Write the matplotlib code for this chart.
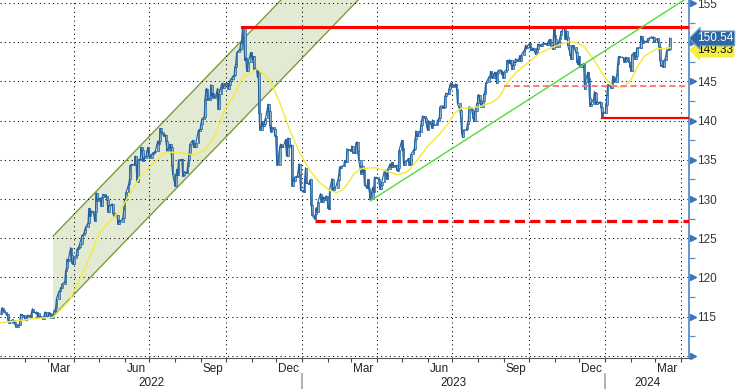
import numpy as np
import pandas as pd
import matplotlib
matplotlib.use('Agg')
import matplotlib.pyplot as plt
import matplotlib.dates as mdates
import matplotlib.transforms as mtrans

# daily closes (business days)
close_2022 = [
    115.3, 116.1, 116.1, 115.8, 115.6, 115.2, 115.3, 114.6, 114.2, 114.2, 114.6, 114.6, 114.3, 114.1, 113.7, 113.9, 113.9, 114.6, 115.3, 115.2, 115.1,
    114.7, 114.6, 114.9, 115.2, 115.0, 115.1, 115.6, 116.0, 115.6, 115.4, 115.6, 114.9, 115.4, 115.0, 115.0, 114.9, 114.7, 115.1, 115.6, 115.0,
    114.9, 115.5, 115.5, 114.8, 115.3, 115.7, 115.8, 116.1, 117.3, 118.2, 118.3, 118.7, 118.6, 119.2, 119.4, 120.8, 121.2, 122.3, 122.1, 123.8, 122.8, 121.8, 121.7,
    122.5, 122.8, 123.6, 123.8, 123.9, 124.3, 125.4, 125.4, 125.6, 126.0, 126.4, 126.9, 128.8, 127.8, 128.4, 128.5, 128.1, 127.2, 128.4, 130.8, 129.8,
    130.1, 130.1, 129.1, 130.2, 130.6, 130.3, 130.4, 129.9, 128.3, 129.2, 129.2, 129.4, 128.2, 127.8, 127.9, 127.9, 126.8, 127.3, 127.1, 127.1, 127.6, 128.7,
    130.0, 129.9, 130.9, 131.9, 132.6, 134.3, 134.4, 134.4, 134.4, 135.5, 134.3, 132.2, 135.0, 135.1, 136.6, 136.2, 134.9, 135.2, 135.5, 136.1, 136.6, 135.7,
    135.2, 135.7, 135.9, 135.9, 136.0, 136.1, 137.4, 137.0, 137.4, 139.0, 138.6, 138.1, 138.2, 138.2, 137.4, 136.1, 136.7, 137.0, 136.6, 134.3, 133.2,
    131.6, 133.1, 133.8, 133.0, 135.0, 135.0, 135.1, 132.9, 133.0, 133.5, 133.3, 134.2, 135.0, 135.9, 137.0, 137.5, 136.7, 136.9, 136.6, 137.2, 138.8, 138.7, 138.9,
    139.6, 140.2, 140.5, 142.8, 144.0, 144.1, 142.6, 142.9, 144.6, 143.2, 143.5, 142.9, 143.2, 143.7, 144.1, 141.5, 143.4, 144.7, 144.8, 144.2, 144.5, 144.7,
    144.8, 144.1, 144.6, 145.1, 145.3, 145.7, 145.8, 146.9, 147.2, 148.7, 149.0, 149.2, 149.9, 150.1, 151.8, 147.7, 148.0, 146.4, 146.3, 147.5, 148.7,
    148.2, 147.9, 148.2, 146.6, 146.6, 145.6, 146.4, 141.0, 138.8, 139.9, 139.3, 139.6, 140.1, 140.4, 142.1, 141.2, 139.4, 138.6, 139.2, 138.9, 138.1, 138.1,
    135.3, 134.3, 136.7, 137.0, 136.6, 136.6, 136.6, 137.6, 135.6, 135.5, 137.8, 136.7, 136.9, 131.7, 132.5, 132.3, 132.8, 132.9, 133.5, 134.5, 133.1, 131.1,
]
close_2023 = [
    131.0, 130.9, 132.5, 134.0, 132.1, 131.9, 132.3, 132.5, 129.2, 127.9, 127.5, 128.1, 128.9, 128.4, 129.6, 130.7, 130.2, 129.6, 130.3, 129.9, 130.4, 130.1,
    128.9, 128.7, 131.2, 132.6, 131.1, 131.4, 131.4, 131.4, 132.4, 133.1, 134.1, 133.9, 134.2, 134.2, 134.9, 134.9, 134.7, 136.4, 136.2, 136.2,
    136.1, 136.8, 135.9, 135.9, 137.2, 137.3, 136.1, 135.0, 133.2, 134.2, 133.4, 133.7, 131.8, 131.4, 132.5, 131.4, 130.8, 130.0, 131.5, 130.9, 132.8, 132.7, 132.8,
    132.5, 131.7, 131.3, 131.8, 132.2, 133.6, 133.7, 133.1, 132.6, 133.8, 134.5, 134.1, 134.7, 134.3, 134.1, 134.3, 133.7, 133.6, 133.9, 136.3,
    137.5, 136.5, 134.6, 134.3, 134.8, 135.0, 135.2, 134.4, 134.5, 135.7, 136.2, 136.4, 137.6, 138.7, 138.0, 138.6, 138.6, 139.5, 140.1, 140.6, 140.4, 139.8, 139.3,
    138.8, 140.0, 139.6, 139.1, 140.1, 139.4, 139.4, 139.5, 140.1, 140.0, 140.3, 141.8, 141.9, 141.6, 141.8, 143.1, 143.5, 143.4, 144.1, 144.5, 144.8, 144.3,
    144.6, 144.4, 144.7, 144.0, 142.2, 141.3, 140.4, 138.5, 137.9, 138.8, 138.8, 138.9, 139.6, 140.0, 141.8, 141.5, 140.9, 140.4, 139.9, 141.2, 142.3,
    143.3, 143.3, 142.6, 141.8, 142.5, 143.4, 143.7, 144.8, 144.9, 145.6, 145.6, 146.3, 146.1, 145.4, 146.2, 145.9, 144.8, 146.1, 146.4, 146.5, 145.9, 146.2, 145.5,
    146.2, 146.5, 147.7, 147.7, 147.3, 147.8, 146.6, 147.1, 147.5, 147.5, 147.9, 147.6, 147.9, 148.3, 147.6, 148.4, 148.9, 149.1, 149.6, 149.3, 149.4,
    149.9, 149.0, 149.1, 149.0, 149.3, 148.5, 148.7, 149.1, 149.8, 149.6, 149.5, 149.8, 149.8, 149.8, 149.9, 149.7, 149.9, 150.2, 150.4, 149.6, 149.1, 151.7,
    150.9, 150.4, 149.4, 150.0, 150.4, 150.9, 151.4, 151.5, 151.9, 150.4, 151.4, 150.7, 149.6, 148.4, 147.9, 149.5, 149.6, 149.4, 148.7, 147.5, 147.2, 148.2,
    146.8, 147.2, 147.1, 147.3, 144.1, 144.9, 146.2, 145.4, 142.9, 141.9, 142.1, 142.8, 143.7, 143.5, 142.1, 142.4, 142.3, 142.4, 141.8, 140.6, 141.0,
]
close_2024 = [
    141.0, 142.0, 143.3, 144.6, 144.6, 144.2, 144.4, 145.7, 145.3, 144.9, 145.8, 147.2, 148.2, 148.1, 148.1, 148.1, 147.9, 147.5, 147.6, 148.1, 147.5, 147.5, 146.9,
    146.4, 148.4, 148.7, 147.9, 148.2, 149.3, 149.3, 149.3, 150.8, 150.6, 149.9, 150.2, 150.1, 150.1, 150.3, 150.5, 150.5, 150.7, 150.5, 150.7, 150.0,
    150.1, 150.5, 150.0, 149.4, 147.8, 147.0, 146.9, 147.7, 147.8, 148.3, 149.0, 149.1, 150.54,
]

# yellow moving average, read at points along the curve
ma_dates = ['2022-01-02', '2022-02-19', '2022-03-07', '2022-03-27', '2022-04-08', '2022-04-20', '2022-05-02',
            '2022-05-14', '2022-05-26', '2022-06-20', '2022-07-20', '2022-08-07', '2022-08-25', '2022-09-06',
            '2022-09-18', '2022-09-30', '2022-10-12', '2022-10-22', '2022-11-08', '2022-11-23', '2022-12-05',
            '2022-12-17', '2022-12-29', '2023-01-10', '2023-01-22', '2023-02-03', '2023-02-12', '2023-02-21',
            '2023-03-05', '2023-03-14', '2023-03-30', '2023-04-11', '2023-04-26', '2023-05-08', '2023-05-20',
            '2023-06-01', '2023-06-13', '2023-06-25', '2023-07-04', '2023-07-12', '2023-07-22', '2023-08-03',
            '2023-08-19', '2023-08-27', '2023-09-05', '2023-09-17', '2023-09-29', '2023-10-14', '2023-10-26',
            '2023-11-07', '2023-11-19', '2023-11-29', '2023-12-07', '2023-12-19', '2023-12-31', '2024-01-08',
            '2024-01-16', '2024-01-24', '2024-02-01', '2024-02-09', '2024-02-17', '2024-02-26', '2024-03-05',
            '2024-03-12', '2024-03-19']
ma_values = [114.2, 114.8, 114.9, 117.1, 119.7, 122.6, 125.7,
             127.1, 128.4, 132.9, 136.0, 135.9, 135.6, 136.3,
             138.0, 141.4, 143.5, 145.6, 146.6, 145.2, 142.3,
             138.8, 135.9, 133.7, 132.1, 131.1, 130.8, 131.4,
             133.3, 133.9, 134.0, 133.6, 133.1, 133.5, 135.0,
             136.7, 138.0, 139.5, 141.0, 141.6, 141.6, 141.8,
             142.4, 143.1, 144.8, 146.3, 147.3, 148.6, 149.2,
             149.7, 150.1, 149.9, 149.4, 147.7, 145.6, 144.6,
             144.3, 144.3, 145.2, 146.9, 148.2, 148.8, 149.2,
             149.2, 149.33]

# annotation levels
top_level = 151.95
top_start = '2022-10-21'
low_level = 140.3
low_start = '2023-12-28'
mid_level = 144.4
mid_start = '2023-09-01'
floor_level = 127.24
floor_start = '2023-01-16'
trend_dates = ['2023-03-24', '2024-04-11']
trend_values = [129.75, 155.8]
chan_lower_dates = ['2022-03-07', '2023-03-24']
chan_lower_values = [115.07, 157.0]
chan_upper_dates = ['2022-03-07', '2022-12-21']
chan_upper_values = [125.28, 157.0]

month_labels = ['Mar', 'Jun', 'Sep', 'Dec', 'Mar', 'Jun', 'Sep', 'Dec', 'Mar']
month_centers = ['2022-03-16', '2022-06-15', '2022-09-15', '2022-12-16', '2023-03-16',
                 '2023-06-15', '2023-09-15', '2023-12-16', '2024-03-16']
year_labels = ['2022', '2023', '2024']
year_starts = ['2022-01-01', '2023-01-01', '2024-01-01']

xmin = pd.Timestamp('2022-01-02')
xmax = pd.Timestamp('2024-04-11')

dates = pd.bdate_range('2022-01-03', periods=len(close_2022))
dates = dates.append(pd.bdate_range('2023-01-02', periods=len(close_2023)))
dates = dates.append(pd.bdate_range('2024-01-01', periods=len(close_2024)))
close = np.array(close_2022 + close_2023 + close_2024)
opn = np.r_[close[0], close[:-1]]

plt.rcParams['font.family'] = ['Liberation Sans', 'DejaVu Sans']
fig = plt.figure(figsize=(7.36, 3.89), dpi=100)
ax = fig.add_axes([0, 31.5 / 389, 689 / 736, 357.5 / 389])

# channel
poly_x = [pd.Timestamp(d) for d in chan_lower_dates] + [pd.Timestamp(d) for d in chan_upper_dates[::-1]]
poly_y = chan_lower_values + chan_upper_values[::-1]
ax.fill(poly_x, poly_y, color='#e2ead4', zorder=0.5, lw=0)
ax.plot(pd.to_datetime(chan_lower_dates), chan_lower_values, color='#7b9c3c', lw=1.0, zorder=1)
ax.plot(pd.to_datetime(chan_upper_dates), chan_upper_values, color='#7b9c3c', lw=1.0, zorder=1)

# price bars
ax.bar(dates, close - opn, bottom=opn, width=2.0, color='#8fb1d0', edgecolor='#22609e',
       linewidth=0.5, zorder=3)
ax.plot(dates, close, color='#22609e', lw=0.8, zorder=3)

# moving average
ax.plot(pd.to_datetime(ma_dates), ma_values, color='#f4ea45', lw=1.1, zorder=4)

# support / resistance
ax.plot([pd.Timestamp(top_start), xmax], [top_level] * 2, color='#ff0000', lw=2.2, zorder=5)
ax.plot([pd.Timestamp(low_start), xmax], [low_level] * 2, color='#ff0000', lw=1.6, zorder=5)
ax.plot([pd.Timestamp(mid_start), xmax], [mid_level] * 2, color='#ff7b7b', lw=1.4,
        ls=(0, (3.2, 1.8)), zorder=5)
ax.plot([pd.Timestamp(floor_start), xmax], [floor_level] * 2, color='#ff0000', lw=2.3,
        ls=(0, (3.2, 1.6)), zorder=5)
ax.plot(pd.to_datetime(trend_dates), trend_values, color='#52dc3a', lw=1.0, zorder=5)

ax.set_xlim(xmin, xmax)
ax.set_ylim(109.77, 155.4)

# grid
ax.xaxis.set_major_locator(mdates.MonthLocator(bymonth=[1, 4, 7, 10]))
ax.xaxis.set_minor_locator(mdates.MonthLocator())
ax.set_yticks(np.arange(110, 156, 5))
ax.yaxis.set_minor_locator(matplotlib.ticker.MultipleLocator(2.5))
ax.grid(which='major', color='black', lw=0.75, ls=(0, (1, 3.2)), zorder=1.5)

ax.tick_params(axis='x', which='both', length=3, width=0.8, color='#444444', labelbottom=False)
ax.yaxis.tick_right()
ax.tick_params(axis='y', which='major', length=0, pad=6, labelsize=8.5, labelcolor='#333333')
ax.tick_params(axis='y', which='minor', length=4, width=0.9, color='#5b8fcc')
ax.set_yticklabels(['' if v == 110 else str(v) for v in range(110, 156, 5)])

for s in ['top', 'left']:
    ax.spines[s].set_visible(False)
ax.spines['bottom'].set_color('#555555')
ax.spines['bottom'].set_linewidth(0.8)
ax.spines['right'].set_color('#5b8fcc')
ax.spines['right'].set_linewidth(1.3)

# arrow tick marks on right axis
ty = mtrans.blended_transform_factory(ax.transAxes, ax.transData)
ax.plot([1.006] * 10, np.arange(110, 156, 5), ls='none', marker='>', ms=5,
        color='#3d76b8', transform=ty, clip_on=False, zorder=6)

# month / year labels
tx = mtrans.blended_transform_factory(ax.transData, ax.transAxes)
for lab, c in zip(month_labels, month_centers):
    ax.text(pd.Timestamp(c), -0.032, lab, transform=tx, ha='center', va='center',
            fontsize=8.5, color='#222222')
for i, lab in enumerate(year_labels):
    a = pd.Timestamp(year_starts[i])
    b = pd.Timestamp(year_starts[i + 1]) if i + 1 < len(year_starts) else xmax
    a = max(a, xmin)
    b = min(b, xmax)
    ax.text(a + (b - a) / 2, -0.072, lab, transform=tx, ha='center', va='center',
            fontsize=8.5, color='#222222')
    if i > 0:
        ax.plot([a, a], [-0.045, -0.09], transform=tx, color='#aaaaaa', lw=1.3, clip_on=False)

# last value boxes
ax.text(1.0115, 149.0, '149.33', transform=ty, ha='left', va='center', fontsize=8.5,
        color='#111111', clip_on=False, zorder=10,
        bbox=dict(boxstyle='larrow,pad=0.12', fc='#f6ee3c', ec='none'))
ax.text(1.0115, 150.5, '150.54', transform=ty, ha='left', va='center', fontsize=8.5,
        color='white', clip_on=False, zorder=11,
        bbox=dict(boxstyle='larrow,pad=0.12', fc='#2f66a4', ec='#7fa6d3', lw=0.8))

fig.savefig('out.png', dpi=100)
